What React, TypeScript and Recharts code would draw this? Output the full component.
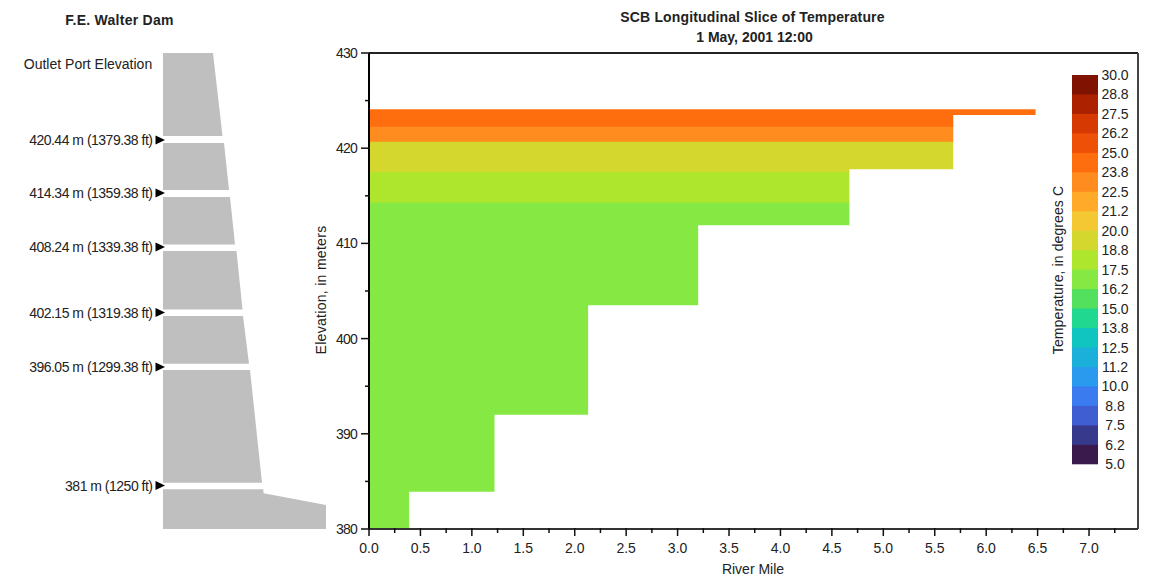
import React from "react";
import { ComposedChart, Area, Scatter, XAxis, YAxis, ReferenceLine } from "recharts";

const FONT = '"Liberation Sans", Arial, sans-serif';
const INK = "#222222";

// ---- main slice ----
const riverMileTicks = [0, 0.25, 0.5, 0.75, 1, 1.25, 1.5, 1.75, 2, 2.25, 2.5, 2.75, 3, 3.25, 3.5, 3.75, 4, 4.25, 4.5, 4.75, 5, 5.25, 5.5, 5.75, 6, 6.25, 6.5, 6.75, 7, 7.25];
const elevationTicks = [380, 385, 390, 395, 400, 405, 410, 415, 420, 425, 430];

const green165Miles = [0, 0.39, 1.22, 2.13, 3.2, 4.67];
const green165Low = [380, 383.9, 392, 403.5, 411.9, 411.9];
const green165High = [414.4, 414.4, 414.4, 414.4, 414.4, 414.4];

const lime18Miles = [0, 4.67];
const lime18Low = [414.3, 414.3];
const lime18High = [417.6, 417.6];

const yellow19Miles = [0, 4.67, 5.68];
const yellow19Low = [417.5, 417.8, 417.8];
const yellow19High = [420.78, 420.78, 420.78];

const orange23Miles = [0, 5.68];
const orange23Low = [420.68, 420.68];
const orange23High = [422.36, 422.36];

const orange24Miles = [0, 5.68, 6.48];
const orange24Low = [422.26, 423.5, 423.5];
const orange24High = [424.09, 424.09, 424.09];

// ---- colour scale ----
const scaleEdges = [5, 6.25, 7.5, 8.75, 10, 11.25, 12.5, 13.75, 15, 16.25, 17.5, 18.75, 20, 21.25, 22.5, 23.75, 25, 26.25, 27.5, 28.75, 30];
const scaleLabels = ["5.0", "6.2", "7.5", "8.8", "10.0", "11.2", "12.5", "13.8", "15.0", "16.2", "17.5", "18.8", "20.0", "21.2", "22.5", "23.8", "25.0", "26.2", "27.5", "28.8", "30.0"];
const scaleColors = ["#3a1a4c", "#36398c", "#3f5ed2", "#3a7bf0", "#2a9aee", "#1ab0da", "#10c4c0", "#20d890", "#52e05e", "#86e842", "#aee62e", "#d4d82e", "#f4c832", "#ffaa28", "#ff8c1e", "#ff6e0e", "#ee5008", "#d63a02", "#ac2200", "#7f1200"];

// ---- dam schematic: distance from the upstream face, height above the base ----
const damSections = [
  { xs: [0, 50, 59.5], low: [393, 393, 393], high: [476, 476, 393] },
  { xs: [0, 61, 66], low: [339, 339, 339], high: [386, 386, 339] },
  { xs: [0, 67, 72], low: [284.5, 284.5, 284.5], high: [332, 332, 284.5] },
  { xs: [0, 73.5, 79.5], low: [219.5, 219.5, 219.5], high: [278, 278, 219.5] },
  { xs: [0, 80, 86], low: [165.3, 165.3, 165.3], high: [213, 213, 165.3] },
  { xs: [0, 87, 99], low: [46.3, 46.3, 46.3], high: [159, 159, 46.3] },
  { xs: [0, 100.3, 100.6, 163], low: [0, 0, 0, 0], high: [39.7, 39.7, 35.7, 24] },
];
const portHeights = [389, 336, 282, 216.5, 162, 43.5];
const portLabels = ["420.44 m (1379.38 ft)", "414.34 m (1359.38 ft)", "408.24 m (1339.38 ft)", "402.15 m (1319.38 ft)", "396.05 m (1299.38 ft)", "381 m (1250 ft)"];

const rows = (xs: number[], low: number[], high: number[]) =>
  xs.map((x, i) => ({ x, r: [low[i], high[i]] }));

const bands = [
  { color: "#86e842", data: rows(green165Miles, green165Low, green165High) },
  { color: "#aee62e", data: rows(lime18Miles, lime18Low, lime18High) },
  { color: "#d4d82e", data: rows(yellow19Miles, yellow19Low, yellow19High) },
  { color: "#ff8c1e", data: rows(orange23Miles, orange23Low, orange23High) },
  { color: "#ff6e0e", data: rows(orange24Miles, orange24Low, orange24High) },
];

const ports = portHeights.map((h, i) => ({ x: 1.5, y: h, label: portLabels[i] }));

const textStyle = { fontFamily: FONT, fontSize: 14, fill: "#222" };

const XTick = (p: any) => {
  const v = p.payload.value;
  const major = Math.abs(v * 2 - Math.round(v * 2)) < 1e-6;
  return (
    <g>
      <line x1={p.x} x2={p.x} y1={p.y - 1} y2={p.y + (major ? 7 : 4)} stroke="#111" strokeWidth={1.5} />
      {major && (
        <text x={p.x} y={p.y + 24} textAnchor="middle" style={textStyle}>
          {v.toFixed(1)}
        </text>
      )}
    </g>
  );
};

const YTick = (p: any) => {
  const v = p.payload.value;
  const major = v % 10 === 0;
  return (
    <g>
      <line x1={p.x + 1} x2={p.x - (major ? 8 : 4)} y1={p.y} y2={p.y} stroke="#111" strokeWidth={1.5} />
      {major && (
        <text x={p.x - 12} y={p.y + 5} textAnchor="end" letterSpacing={-0.8} style={textStyle}>
          {v}
        </text>
      )}
    </g>
  );
};

const ScaleTick = (p: any) => (
  <text x={p.x + 17} y={p.y + 5} textAnchor="middle" style={textStyle}>
    {scaleLabels[p.index]}
  </text>
);

const PortMark = (p: any) => (
  <g>
    <path d={`M${p.cx - 9} ${p.cy - 4.5} L${p.cx + 0.5} ${p.cy} L${p.cx - 9} ${p.cy + 4.5} Z`} fill="#000" />
    <text x={p.cx - 12} y={p.cy + 5} textAnchor="end" letterSpacing={-0.5} style={textStyle}>
      {p.payload.label}
    </text>
  </g>
);

const Label = ({ x, y, children, bold, rotate, spacing }: any) => (
  <div
    style={{
      position: "absolute",
      left: x,
      top: y,
      transform: `translate(-50%, -50%)${rotate ? " rotate(-90deg)" : ""}`,
      fontFamily: FONT,
      fontSize: 14,
      fontWeight: bold ? 700 : 400,
      letterSpacing: spacing || 0,
      color: "#222",
      whiteSpace: "nowrap",
      lineHeight: 1,
    }}
  >
    {children}
  </div>
);

export default function App() {
  return (
    <div style={{ position: "absolute", left: 0, top: 0, width: 1150, height: 577, background: "#fff", overflow: "hidden" }}>
      <div style={{ position: "absolute", left: 0, top: 0 }}>
        <ComposedChart width={330} height={577} margin={{ top: 0, right: 0, bottom: 0, left: 0 }}>
          <XAxis type="number" dataKey="x" domain={[-163, 167]} hide allowDataOverflow />
          <YAxis type="number" domain={[-48, 529]} hide allowDataOverflow />
          {damSections.map((s, i) => (
            <Area key={i} data={rows(s.xs, s.low, s.high)} dataKey="r" type="linear" fill="#bfbfbf" fillOpacity={1} stroke="none" dot={false} activeDot={false} isAnimationActive={false} />
          ))}
          <Scatter data={ports} dataKey="y" shape={PortMark} isAnimationActive={false} />
        </ComposedChart>
      </div>

      <div style={{ position: "absolute", left: 0, top: 0 }}>
        <ComposedChart width={1150} height={577} margin={{ top: 53, right: 12, bottom: 18, left: 309 }}>
          {bands.map((b, i) => (
            <Area key={i} data={b.data} dataKey="r" type="stepAfter" fill={b.color} fillOpacity={1} stroke="none" dot={false} activeDot={false} isAnimationActive={false} />
          ))}
          <ReferenceLine y={430} stroke={INK} strokeWidth={2} />
          <ReferenceLine x={7.476} stroke="#444" strokeWidth={2} />
          <XAxis type="number" dataKey="x" domain={[0, 7.476]} ticks={riverMileTicks} interval={0} height={30} tick={XTick} tickSize={0} tickMargin={0} tickLine={false} axisLine={{ stroke: "#333", strokeWidth: 2 }} allowDataOverflow />
          <YAxis type="number" domain={[380, 430]} ticks={elevationTicks} interval={0} width={60} tick={YTick} tickSize={0} tickMargin={0} tickLine={false} axisLine={{ stroke: "#000", strokeWidth: 2 }} allowDataOverflow />
        </ComposedChart>
      </div>

      <div style={{ position: "absolute", left: 1072, top: 45 }}>
        <ComposedChart width={70} height={450} margin={{ top: 30, right: 0, bottom: 30.7, left: 0 }}>
          {scaleColors.map((c, i) => {
            const top = Math.min(scaleEdges[i + 1] + 0.06, 30);
            return (
              <Area key={c} data={rows([0, 1], [scaleEdges[i], scaleEdges[i]], [top, top])} dataKey="r" type="linear" fill={c} fillOpacity={1} stroke="none" dot={false} activeDot={false} isAnimationActive={false} />
            );
          })}
          <XAxis type="number" dataKey="x" domain={[0, 1]} hide />
          <YAxis type="number" orientation="right" domain={[5, 30]} ticks={scaleEdges} interval={0} width={44} tick={ScaleTick} tickSize={0} tickMargin={0} tickLine={false} axisLine={false} />
        </ComposedChart>
      </div>

      <Label x={119.5} y={20} bold spacing={0.25}>F.E. Walter Dam</Label>
      <Label x={88} y={64}>Outlet Port Elevation</Label>
      <Label x={752.5} y={17} bold spacing={0.15}>SCB Longitudinal Slice of Temperature</Label>
      <Label x={754.5} y={37} bold>1 May, 2001 12:00</Label>
      <Label x={321} y={290} rotate spacing={0.3}>Elevation, in meters</Label>
      <Label x={753} y={569}>River Mile</Label>
      <Label x={1058} y={270} rotate spacing={0.1}>Temperature, in degrees C</Label>
    </div>
  );
}
